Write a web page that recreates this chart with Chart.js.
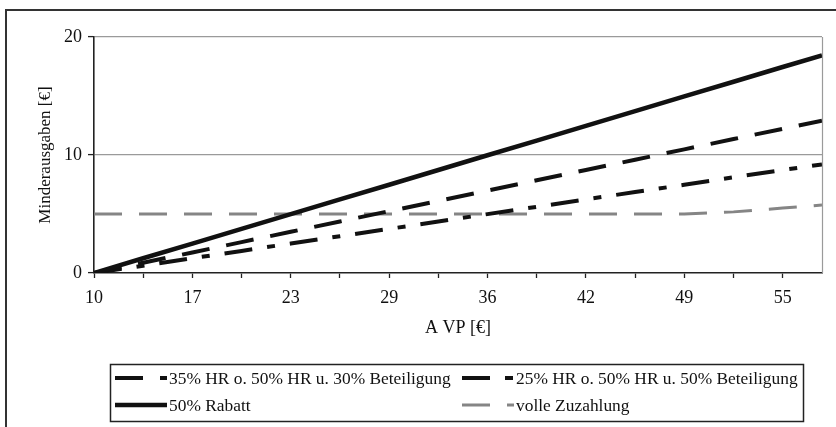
<!DOCTYPE html>
<html>
<head>
<meta charset="utf-8">
<script src="https://cdn.jsdelivr.net/npm/chart.js@4/dist/chart.umd.min.js"></script>
<style>
  html, body { margin: 0; padding: 0; background: #fff; }
  #wrap { width: 836px; height: 427px; position: relative; }
</style>
</head>
<body>
<div id="wrap"><canvas id="c" width="836" height="427"></canvas></div>
<script>
// ---- data ----
const avp = [10, 13.21, 16.43, 19.64, 22.86, 26.07, 29.29, 32.5, 35.71, 38.93, 42.14, 45.36, 48.57, 51.79, 55.0, 57.57];
const xTickLabels = ['10', '17', '23', '29', '36', '42', '49', '55'];
const yTickValues = [0, 10, 20];

const seriesLabels = [
  '35% HR o. 50% HR u. 30% Beteiligung',
  '25% HR o. 50% HR u. 50% Beteiligung',
  '50% Rabatt',
  'volle Zuzahlung'
];
const hr35     = [0, 0.87, 1.74, 2.62, 3.49, 4.37, 5.24, 6.11, 6.98, 7.86, 8.73, 9.60, 10.48, 11.35, 12.22, 12.90];
const hr25     = [0, 0.62, 1.25, 1.87, 2.50, 3.12, 3.74, 4.36, 4.99, 5.61, 6.24, 6.86, 7.48, 8.11, 8.73, 9.20];
const rabatt50 = [0, 1.25, 2.49, 3.74, 4.99, 6.24, 7.48, 8.73, 9.98, 11.22, 12.47, 13.72, 14.97, 16.21, 17.46, 18.45];
const volleZuz = [5, 5, 5, 5, 5, 5, 5, 5, 5, 5, 5, 5, 5, 5.18, 5.50, 5.76];

const xTickStep = 3.2143;   // AVP distance between tick marks
const xTickCount = 15;

// ---- chart ----
const FONT = "'Liberation Serif', 'Times New Roman', serif";
const toPts = arr => avp.map((x, i) => ({ x: x, y: arr[i] }));

const styles = [
  { color: '#111', width: 4,   dash: [28, 17] },
  { color: '#111', width: 4,   dash: [28, 15, 8, 15] },
  { color: '#111', width: 4.5, dash: [] },
  { color: '#858585', width: 3, dash: [28, 17] }
];
const seriesData = [hr35, hr25, rabatt50, volleZuz];

const datasets = seriesData.map((arr, i) => ({
  label: seriesLabels[i],
  data: toPts(arr),
  borderColor: styles[i].color,
  borderWidth: styles[i].width,
  borderDash: styles[i].dash,
  borderCapStyle: 'butt',
  pointRadius: 0,
  tension: 0,
  fill: false,
  order: i === 2 ? 0 : (i === 3 ? 3 : 1)
}));

const framePlugin = {
  id: 'frame',
  afterDraw(chart) {
    const ctx = chart.ctx;
    const a = chart.chartArea;
    ctx.save();
    // plot area gray border (right side)
    ctx.strokeStyle = '#9a9a9a';
    ctx.lineWidth = 1.2;
    ctx.beginPath();
    ctx.moveTo(a.right + 0.5, a.top);
    ctx.lineTo(a.right + 0.5, a.bottom);
    ctx.stroke();
    // outer chart frame
    ctx.strokeStyle = '#333';
    ctx.lineWidth = 2;
    ctx.strokeRect(6, 10, 900, 500);
    // legend
    const box = { x: 110.5, y: 364.5, w: 693, h: 57 };
    ctx.strokeStyle = '#222';
    ctx.lineWidth = 1.5;
    ctx.strokeRect(box.x, box.y, box.w, box.h);
    const cols = [115, 462];
    const rows = [378, 405];
    const order = [0, 1, 2, 3];
    ctx.font = '17.4px ' + FONT;
    ctx.textBaseline = 'middle';
    ctx.fillStyle = '#111';
    order.forEach((dsIdx, n) => {
      const ds = chart.data.datasets[dsIdx];
      const cx = cols[n % 2], cy = rows[Math.floor(n / 2)];
      ctx.save();
      ctx.strokeStyle = ds.borderColor;
      ctx.lineWidth = ds.borderWidth;
      ctx.setLineDash(ds.borderDash);
      ctx.lineCap = 'butt';
      ctx.beginPath();
      ctx.moveTo(cx, cy);
      ctx.lineTo(cx + 52, cy);
      ctx.stroke();
      ctx.restore();
      ctx.fillText(ds.label, cx + 54, cy + 1);
    });
    ctx.restore();
  }
};

new Chart(document.getElementById('c'), {
  type: 'line',
  data: { datasets: datasets },
  options: {
    responsive: false,
    animation: false,
    devicePixelRatio: 1,
    layout: { padding: { left: 0, top: 37, right: 14, bottom: 84 } },
    plugins: { legend: { display: false }, tooltip: { enabled: false }, title: { display: false } },
    scales: {
      x: {
        type: 'linear',
        min: avp[0],
        max: avp[avp.length - 1],
        afterBuildTicks: scale => {
          const t = [];
          for (let k = 0; k < xTickCount; k++) t.push({ value: avp[0] + k * xTickStep });
          scale.ticks = t;
        },
        afterFit: scale => { scale.height = 70; },
        ticks: {
          autoSkip: false,
          maxRotation: 0,
          padding: 9,
          color: '#111',
          font: { family: FONT, size: 18 },
          callback: (v, i) => (i % 2 === 0 ? xTickLabels[i / 2] : '')
        },
        grid: { drawOnChartArea: false, tickLength: 5, tickColor: '#222', tickWidth: 1.3 },
        border: { color: '#222', width: 1.6 },
        title: {
          display: true, text: 'A VP [€]', color: '#111',
          font: { family: FONT, size: 18 }, padding: { top: 0, bottom: 4 }
        }
      },
      y: {
        min: 0, max: 20,
        afterBuildTicks: scale => { scale.ticks = yTickValues.map(v => ({ value: v })); },
        afterFit: scale => { scale.width = 94; },
        ticks: {
          padding: 6, color: '#111',
          font: { family: FONT, size: 18 }
        },
        grid: {
          color: c => (c.tick && c.tick.value === 0 ? 'rgba(0,0,0,0)' : '#9a9a9a'),
          lineWidth: 1.2, tickLength: 6, tickColor: '#222', tickWidth: 1.3
        },
        border: { color: '#222', width: 1.6 },
        title: {
          display: true, text: 'Minderausgaben [€]', color: '#111',
          font: { family: FONT, size: 17 }, padding: { top: 35, bottom: 0 }
        }
      }
    }
  },
  plugins: [framePlugin]
});
</script>
</body>
</html>
